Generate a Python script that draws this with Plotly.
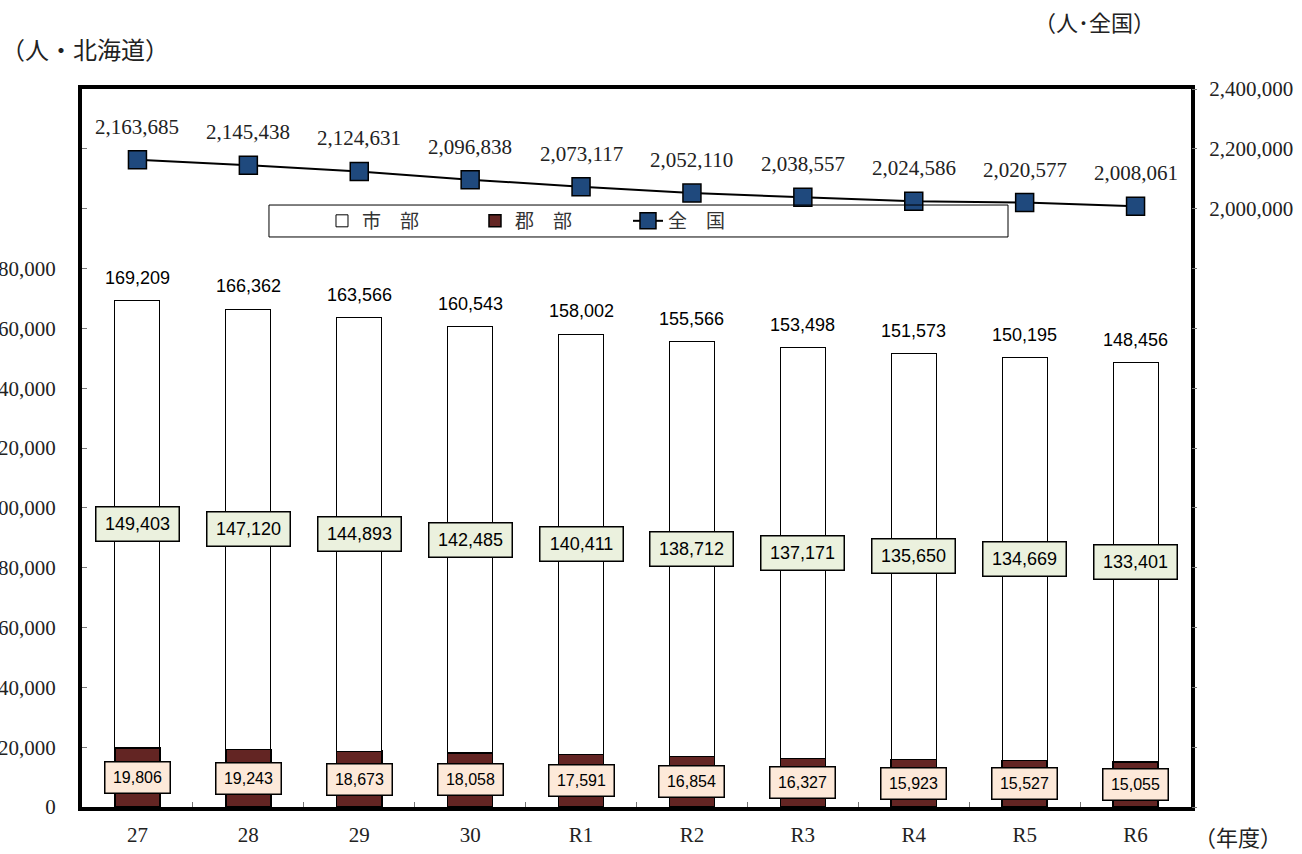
import plotly.graph_objects as go

years = ["27", "28", "29", "30", "R1", "R2", "R3", "R4", "R5", "R6"]
shibu = [149403, 147120, 144893, 142485, 140411, 138712, 137171, 135650, 134669, 133401]
gunbu = [19806, 19243, 18673, 18058, 17591, 16854, 16327, 15923, 15527, 15055]
totals = [169209, 166362, 163566, 160543, 158002, 155566, 153498, 151573, 150195, 148456]
zenkoku = [2163685, 2145438, 2124631, 2096838, 2073117, 2052110, 2038557, 2024586, 2020577, 2008061]

left_ticks = list(range(0, 240001, 20000))
left_text = [f"{v:,}" if v <= 180000 else "" for v in left_ticks]
right_ticks = list(range(0, 2400001, 200000))
right_text = [f"{v:,}" if v >= 2000000 else "" for v in right_ticks]

SERIF = "Liberation Serif, DejaVu Serif, serif"
SANS = "Liberation Sans, Arial, sans-serif"
JP = "Noto Sans CJK JP, sans-serif"

fig = go.Figure()
fig.add_trace(go.Bar(
    x=years, y=gunbu, name="郡　部", legendrank=2,
    marker=dict(color="#632523", line=dict(color="black", width=1.5)),
))
fig.add_trace(go.Bar(
    x=years, y=shibu, name="市　部", legendrank=1,
    marker=dict(color="white", line=dict(color="black", width=1)),
))
fig.add_trace(go.Scatter(
    x=years, y=zenkoku, name="全　国", yaxis="y2", legendrank=3,
    mode="lines+markers",
    line=dict(color="black", width=2),
    marker=dict(symbol="square", size=18, color="#1F497D", line=dict(color="black", width=1.5)),
))

ann = []
for i, (g, s, t, z) in enumerate(zip(gunbu, shibu, totals, zenkoku)):
    ann.append(dict(x=i, y=z, xref="x", yref="y2", text=f"{z:,}", showarrow=False,
                    yshift=33, font=dict(family=SERIF, size=21, color="#222")))
    ann.append(dict(x=i, y=t, xref="x", yref="y", text=f"{t:,}", showarrow=False,
                    yshift=23, font=dict(family=SANS, size=18, color="black")))
    ann.append(dict(x=i, y=g + s / 2, xref="x", yref="y", text=f"{s:,}", showarrow=False,
                    font=dict(family=SANS, size=18, color="black"),
                    bgcolor="#EBF1DE", bordercolor="black", borderwidth=1.5, borderpad=1,
                    width=80, height=31))
    ann.append(dict(x=i, y=g / 2, xref="x", yref="y", text=f"{g:,}", showarrow=False,
                    font=dict(family=SANS, size=16, color="black"),
                    bgcolor="#FDE9D9", bordercolor="black", borderwidth=1.5, borderpad=1,
                    width=62, height=28))

ann.append(dict(x=-0.0745, y=1.057, xref="paper", yref="paper", text="（人・北海道）",
                xanchor="left", yanchor="middle", showarrow=False,
                font=dict(family=JP, size=24, color="#222")))
ann.append(dict(x=0.857, y=1.0947, xref="paper", yref="paper", text="（人･全国）",
                xanchor="left", yanchor="middle", showarrow=False,
                font=dict(family=JP, size=22, color="#222")))
ann.append(dict(x=1.001, y=-0.041, xref="paper", yref="paper", text="（年度）",
                xanchor="left", yanchor="middle", showarrow=False,
                font=dict(family=JP, size=22, color="#222")))

fig.update_layout(
    width=1302, height=854,
    margin=dict(l=82, r=111, t=89, b=47),
    paper_bgcolor="white", plot_bgcolor="white",
    barmode="stack", bargap=0.594,
    showlegend=True,
    legend=dict(orientation="h", x=0.2164, y=0.8162, xanchor="left", yanchor="middle",
                traceorder="normal", bgcolor="rgba(0,0,0,0)", borderwidth=0,
                entrywidth=108, entrywidthmode="pixels",
                font=dict(family=JP, size=19, color="#333")),
    xaxis=dict(type="category", range=[-0.5, 9.5], showline=True, linecolor="black",
               linewidth=4, mirror=True,
               ticks="inside", tickson="boundaries", ticklen=5, tickcolor="#777", tickwidth=1,
               tickfont=dict(family=SERIF, size=21, color="#222"), ticklabelstandoff=6,
               tickangle=0, showgrid=False, zeroline=False, automargin=False),
    yaxis=dict(range=[0, 240000], tickvals=left_ticks, ticktext=left_text,
               showline=True, linecolor="black", linewidth=4, mirror=True,
               ticks="inside", ticklen=5, tickcolor="#777", tickwidth=1,
               tickfont=dict(family=SERIF, size=21, color="#222"), ticklabelstandoff=18,
               showgrid=False, zeroline=False, automargin=False),
    yaxis2=dict(range=[0, 2400000], tickvals=right_ticks, ticktext=right_text,
                overlaying="y", side="right", showline=False,
                ticks="outside", ticklen=5, tickcolor="#777", tickwidth=1,
                tickfont=dict(family=SERIF, size=21, color="#222"), ticklabelstandoff=8,
                showgrid=False, zeroline=False, automargin=False),
    annotations=ann,
    shapes=[dict(type="rect", xref="paper", yref="paper",
                 x0=0.1686, x1=0.835, y0=0.7939, y1=0.8384,
                 line=dict(color="black", width=1), fillcolor="rgba(0,0,0,0)", layer="above")],
)

fig.write_html("out.html", config={"displayModeBar": False},
               post_script="document.body.style.margin='0';")
